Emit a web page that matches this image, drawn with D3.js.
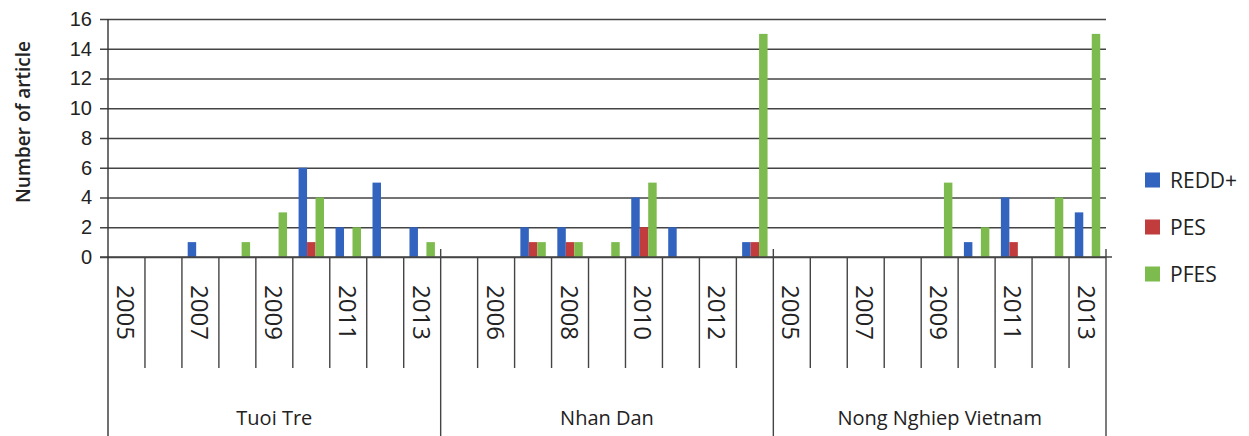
<!DOCTYPE html>
<html>
<head>
<meta charset="utf-8">
<script src="https://cdn.jsdelivr.net/npm/d3@7"></script>
<style>
  html, body { margin: 0; padding: 0; background: #fff; }
  svg { display: block; font-family: "Open Sans", sans-serif; }
</style>
</head>
<body>
<div id="chart"></div>
<script>
// Newspapers (outer category level) and years (inner level)
const papers = ['Tuoi Tre', 'Nhan Dan', 'Nong Nghiep Vietnam'];
const years = [2005, 2006, 2007, 2008, 2009, 2010, 2011, 2012, 2013];
const seriesNames = ['REDD+', 'PES', 'PFES'];
const seriesColors = ['#3263bf', '#c13c3c', '#7dbb4e'];
const yTicks = [0, 2, 4, 6, 8, 10, 12, 14, 16];

// Values per paper, 2005..2013
const reddValues = [0, 0, 1, 0, 0, 6, 2, 5, 2,
                    0, 0, 2, 2, 0, 4, 2, 0, 1,
                    0, 0, 0, 0, 0, 1, 4, 0, 3];
const pesValues  = [0, 0, 0, 0, 0, 1, 0, 0, 0,
                    0, 0, 1, 1, 0, 2, 0, 0, 1,
                    0, 0, 0, 0, 0, 0, 1, 0, 0];
const pfesValues = [0, 0, 0, 1, 3, 4, 2, 0, 1,
                    0, 0, 1, 1, 1, 5, 0, 0, 15,
                    0, 0, 0, 0, 5, 2, 0, 4, 15];

function drawChart() {
    const W = 1249, H = 436;
    const left = 108, right = 1106, top = 19, base = 257;

    // flat category list: one slot per paper/year
    const cats = [];
    papers.forEach(p => years.forEach(y => cats.push({ paper: p, year: y, key: p + '|' + y })));
    const rows = cats.map((c, i) => ({ ...c, idx: i, vals: [reddValues[i], pesValues[i], pfesValues[i]] }));

    const svg = d3.select('#chart').append('svg')
        .attr('width', W)
        .attr('height', H);

    const x0 = d3.scaleBand()
        .domain(cats.map(c => c.key))
        .range([left, right]);

    const x1 = d3.scaleBand()
        .domain(seriesNames)
        .range([0, x0.bandwidth()])
        .paddingOuter(0.68);

    const y = d3.scaleLinear()
        .domain([0, 16])
        .range([base, top]);

    // gridlines + y labels
    const yAxis = d3.axisLeft(y)
        .tickValues(yTicks)
        .tickSize(-(right - left))
        .tickSizeOuter(0)
        .tickPadding(16);
    const gy = svg.append('g')
        .attr('transform', `translate(${left},0)`)
        .call(yAxis);
    gy.select('.domain').remove();
    gy.selectAll('.tick line')
        .attr('x1', -8)
        .attr('stroke', '#444')
        .attr('stroke-width', 1.4);
    gy.selectAll('.tick text')
        .style('font-size', '20px')
        .attr('fill', '#222');

    // bars
    const groups = svg.append('g').selectAll('g')
        .data(rows)
        .join('g')
        .attr('transform', d => `translate(${x0(d.key)},0)`);
    groups.selectAll('rect')
        .data(d => d.vals.map((v, i) => ({ name: seriesNames[i], value: v, color: seriesColors[i] })))
        .join('rect')
        .attr('x', d => x1(d.name))
        .attr('width', x1.bandwidth())
        .attr('y', d => y(d.value))
        .attr('height', d => base - y(d.value))
        .attr('fill', d => d.color);

    // baseline
    svg.append('line')
        .attr('x1', left - 8).attr('x2', right + 6)
        .attr('y1', base).attr('y2', base)
        .attr('stroke', '#444').attr('stroke-width', 1.4);

    // left axis line
    svg.append('line')
        .attr('x1', left).attr('x2', left)
        .attr('y1', top).attr('y2', H)
        .attr('stroke', '#333').attr('stroke-width', 1.4);

    // ticks between years
    const ax = svg.append('g');
    rows.forEach((d, i) => {
        if (i === 0) return;
        const xx = x0(d.key);
        const sep = d.year === years[0];
        ax.append('line')
            .attr('x1', xx).attr('x2', xx)
            .attr('y1', sep ? base - 8 : base)
            .attr('y2', sep ? H : 368)
            .attr('stroke', '#444')
            .attr('stroke-width', 1.4);
    });
    ax.append('line')
        .attr('x1', right).attr('x2', right)
        .attr('y1', base - 8).attr('y2', H)
        .attr('stroke', '#444').attr('stroke-width', 1.4);

    // year labels, every other slot, rotated
    ax.selectAll('text.year')
        .data(rows.filter(d => d.idx % 2 === 0))
        .join('text')
        .attr('class', 'year')
        .attr('transform', d => `translate(${x0(d.key) + x0.bandwidth() / 2},285) rotate(90)`)
        .attr('dominant-baseline', 'central')
        .style('font-size', '24px')
        .attr('fill', '#222')
        .text(d => d.year);

    // paper labels
    papers.forEach(p => {
        const a = x0(p + '|' + years[0]);
        const b = x0(p + '|' + years[years.length - 1]) + x0.bandwidth();
        ax.append('text')
            .attr('x', (a + b) / 2)
            .attr('y', 425)
            .attr('text-anchor', 'middle')
            .style('font-size', '20px')
            .attr('fill', '#222')
            .text(p);
    });

    // y title
    svg.append('text')
        .attr('transform', 'translate(23,122) rotate(-90)')
        .attr('text-anchor', 'middle')
        .attr('dominant-baseline', 'central')
        .style('font-size', '19px')
        .style('font-weight', 600)
        .attr('fill', '#222')
        .text('Number of article');

    // legend
    const lg = svg.append('g').attr('transform', 'translate(1145,180)');
    seriesNames.forEach((s, i) => {
        const row = lg.append('g').attr('transform', `translate(0,${i * 47})`);
        row.append('rect')
            .attr('x', 0).attr('y', -7.5)
            .attr('width', 15).attr('height', 15)
            .attr('fill', seriesColors[i]);
        row.append('text')
            .attr('x', 25).attr('y', 0)
            .attr('dominant-baseline', 'central')
            .style('font-size', '21px')
            .attr('fill', '#222')
            .text(s);
    });
}

document.addEventListener('DOMContentLoaded', drawChart);
</script>
</body>
</html>
